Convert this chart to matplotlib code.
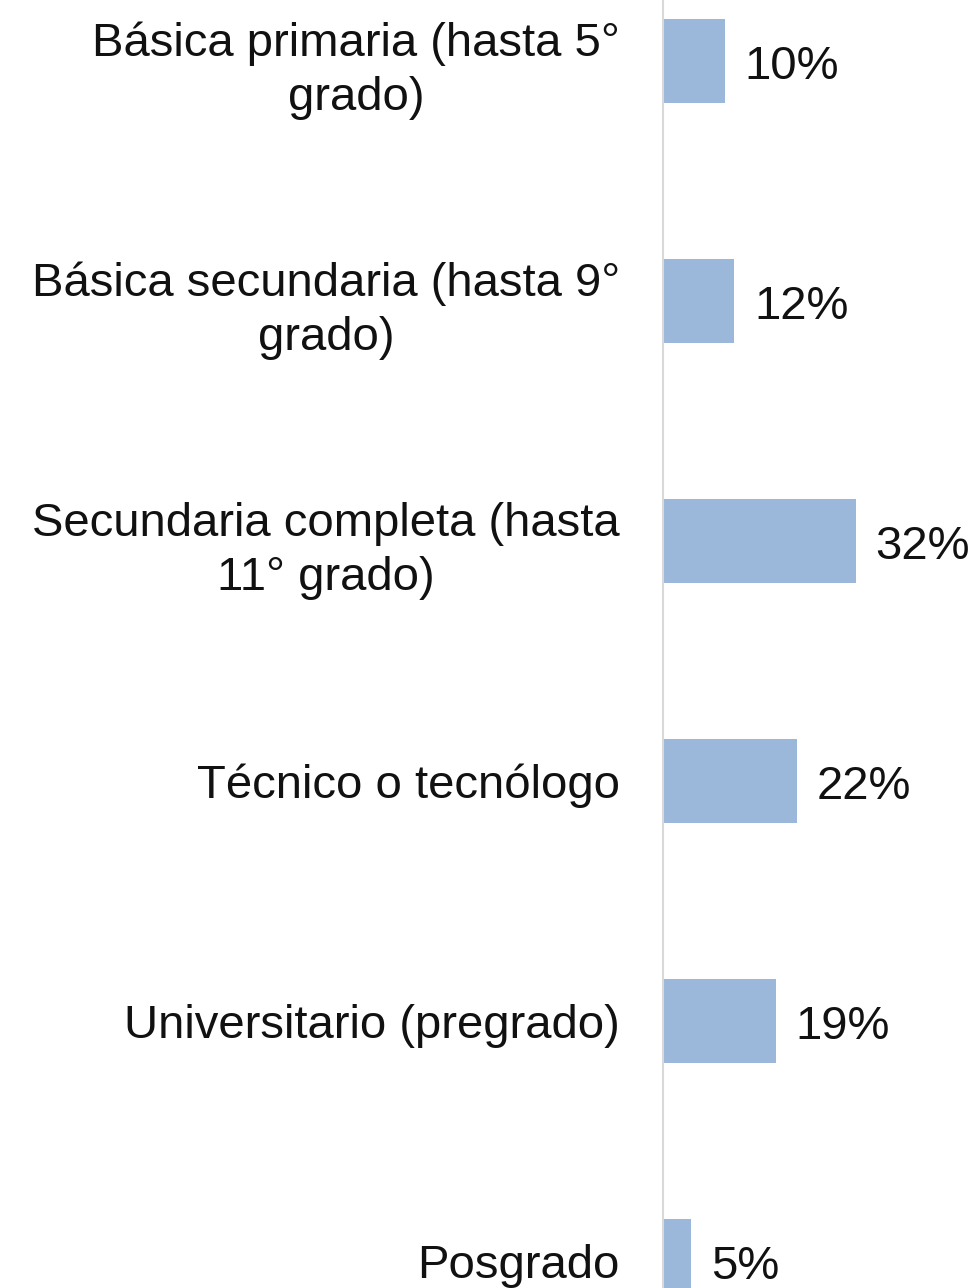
import matplotlib
matplotlib.use('Agg')
from matplotlib import pyplot as plt

categories = ['Básica primaria (hasta 5°\ngrado)',
              'Básica secundaria (hasta 9°\ngrado)',
              'Secundaria completa (hasta\n11° grado)',
              'Técnico o tecnólogo',
              'Universitario (pregrado)',
              'Posgrado']
values = [10.3, 11.8, 32.0, 22.3, 18.7, 4.7]
value_labels = ['10%', '12%', '32%', '22%', '19%', '5%']

def main():
    plt.rcParams['font.family'] = ['Liberation Sans', 'DejaVu Sans']
    fig = plt.figure(figsize=(9.76, 12.88), dpi=100)
    ax = fig.add_axes([663 / 976, 0, 1 - 663 / 976, 1])

    ypos = list(range(len(categories)))
    ax.barh(ypos, values, height=0.35, color='#9BB8DB', zorder=2)
    for y, v, lab in zip(ypos, values, value_labels):
        ax.text(v + 3.3, y + 0.025, lab, va='center', ha='left', fontsize=34,
                color='#111111')

    ax.set_xlim(0, 52)
    ax.set_ylim(5.1125, -0.254)
    ax.set_yticks(ypos)
    ax.set_yticklabels(categories, fontsize=34, color='#111111',
                       multialignment='center', linespacing=1.3)
    ax.tick_params(axis='y', length=0, pad=31)
    ax.set_xticks([])
    for s in ['top', 'right', 'bottom']:
        ax.spines[s].set_visible(False)
    ax.spines['left'].set_color('#D9D9D9')
    ax.spines['left'].set_linewidth(1.5)

    fig.savefig('out.png', dpi=100)
    plt.close()

if __name__ == '__main__': main()
